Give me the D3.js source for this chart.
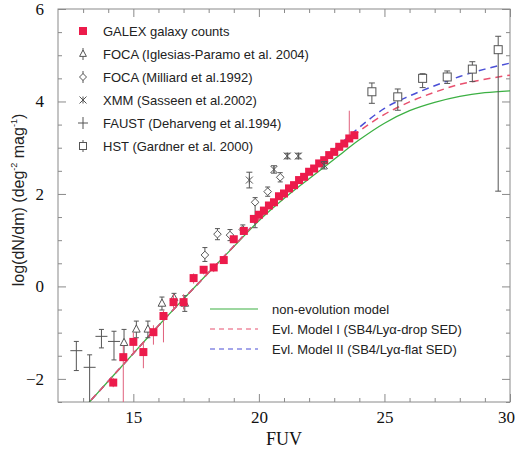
<!DOCTYPE html>
<html><head><meta charset="utf-8">
<script src="https://cdn.jsdelivr.net/npm/d3@7"></script>
<style>body{margin:0;background:#fff}svg{display:block}</style>
</head><body>
<script>
// ---- data ----
const galexMag = [14.2,14.6,15.0,15.4,15.8,16.2,16.6,17.0,17.4,17.8,18.2,18.6,19.0,19.4,19.8,20.0,20.2,20.4,20.6,20.8,21.0,21.2,21.4,21.6,21.8,22.0,22.2,22.4,22.6,22.8,23.0,23.2,23.4,23.6,23.8];
const galexLog = [-2.08,-1.53,-1.2,-1.42,-0.99,-0.64,-0.34,-0.34,0.18,0.36,0.41,0.57,1.02,1.2,1.46,1.55,1.64,1.75,1.82,1.95,2.01,2.12,2.19,2.3,2.37,2.48,2.55,2.66,2.73,2.84,2.91,3.02,3.09,3.2,3.27];
const galexErrLo = [0.1,1.0,0.25,0.35,0.27,0.57,0.16,0.16,0.12,0.1,0.1,0.08,0.06,0.05,0.04,0.03,0.03,0.03,0.03,0.03,0.03,0.03,0.03,0.03,0.03,0.03,0.03,0.03,0.03,0.03,0.03,0.03,0.03,0.03,0.03];
const galexErrHi = [0.1,0.25,0.2,0.2,0.15,0.12,0.17,0.17,0.1,0.08,0.08,0.06,0.05,0.04,0.04,0.03,0.03,0.03,0.03,0.03,0.03,0.03,0.03,0.03,0.03,0.03,0.03,0.03,0.03,0.03,0.03,0.03,0.03,0.6,0.03];

const focaIMag = [14.63,15.12,15.58,16.14,16.62,17.05];
const focaILog = [-1.22,-0.93,-0.93,-0.37,-0.25,-0.37];
const focaIErr = [0.29,0.18,0.18,0.14,0.1,0.17];

const millMag = [17.85,18.35,18.85,19.36,19.85,20.35,20.85];
const millLog = [0.68,1.13,1.11,1.23,1.82,2.05,2.36];
const millErrLo = [0.14,0.12,0.12,0.1,0.55,0.1,0.1];
const millErrHi = [0.16,0.12,0.12,0.1,0.1,0.1,0.1];

const xmmMag = [19.62,20.6,21.13,21.57,22.6];
const xmmLog = [2.3,2.53,2.82,2.82,2.62];
const xmmErr = [0.17,0.08,0.06,0.06,0.08];

const faustMag = [12.73,13.26,13.73,14.23];
const faustLog = [-1.39,-1.75,-1.08,-1.19];
const faustErrLo = [0.43,0.8,0.25,0.4];
const faustErrHi = [0.2,0.27,0.15,0.22];

const hstMag = [24.5,25.53,26.52,27.5,28.5,29.53];
const hstLog = [4.21,4.1,4.5,4.53,4.7,5.12];
const hstErrLo = [0.25,0.29,0.2,0.14,0.27,3.06];
const hstErrHi = [0.19,0.17,0.1,0.13,0.16,0.29];

const modelMag = [13,14,15,16,17,18,19,20,21,22,23,24,25,26,27,28,29,30];
const nonEvo   = [-2.65,-2.05,-1.45,-0.85,-0.27,0.3,0.86,1.42,1.9,2.33,2.75,3.17,3.53,3.8,3.98,4.11,4.19,4.23];
const evoI     = [-2.65,-2.05,-1.45,-0.85,-0.27,0.3,0.87,1.45,1.97,2.43,2.9,3.36,3.72,3.99,4.2,4.37,4.48,4.57];
const evoII    = [-2.65,-2.05,-1.45,-0.85,-0.27,0.3,0.87,1.46,1.99,2.47,2.96,3.44,3.85,4.12,4.34,4.54,4.7,4.83];

const xTicks = [15,20,25,30];
const yTicks = [-2,0,2,4,6];

const legendTop = ["GALEX galaxy counts","FOCA (Iglesias-Paramo et al. 2004)","FOCA (Milliard et al.1992)","XMM (Sasseen et al.2002)","FAUST (Deharveng et al.1994)","HST (Gardner et al. 2000)"];
const legendModels = ["non-evolution model","Evl. Model I (SB4/Ly\u03b1-drop SED)","Evl. Model II (SB4/Ly\u03b1-flat SED)"];

// ---- drawing ----
const W = 521, H = 451;
const L = 58, R = 510, T = 9, B = 402;
const x = d3.scaleLinear().domain([12,30]).range([L,R]);
const y = d3.scaleLinear().domain([-2.5,6]).range([B,T]);
const red = "#ec1b4b", gray = "#555", frame = "#8a8a8a";

const svg = d3.select("body").append("svg").attr("width",W).attr("height",H);
svg.append("defs").append("clipPath").attr("id","clip")
  .append("rect").attr("x",L).attr("y",T).attr("width",R-L).attr("height",B-T);

const tickStyle = g => { g.selectAll("path").remove(); g.selectAll("line").attr("stroke",frame); };
const xMinor = d3.range(13,30,1).filter(v=>v%5!==0);
const yMinor = d3.range(-2.5,6,0.5).filter(v=>v%2!==0);
function axisPair(scale, major, minor, orient, pos, labels) {
  const ax = orient(scale).tickValues(major).tickSize(-8).tickPadding(labels?12:0).tickFormat(labels?d3.format("d"):"");
  const g = svg.append("g").attr("transform",pos).call(ax).call(tickStyle);
  const mx = orient(scale).tickValues(minor).tickSize(-4).tickFormat("");
  svg.append("g").attr("transform",pos).call(mx).call(tickStyle);
  return g;
}
const gx = axisPair(x, xTicks, xMinor, d3.axisBottom, `translate(0,${B})`, true);
axisPair(x, xTicks, xMinor, d3.axisTop, `translate(0,${T})`, false);
const gy = axisPair(y, yTicks, yMinor, d3.axisLeft, `translate(${L},0)`, true);
axisPair(y, yTicks, yMinor, d3.axisRight, `translate(${R},0)`, false);
gx.selectAll("text").attr("font-family","'Liberation Serif',serif").attr("font-size",17).attr("fill","#111").attr("dy","0.55em");
gy.selectAll("text").attr("font-family","'Liberation Serif',serif").attr("font-size",17).attr("fill","#111").attr("dx","-2");
gx.selectAll(".tick").filter(d=>d===30).select("text").attr("dx","-4");

svg.append("rect").attr("x",L).attr("y",T).attr("width",R-L).attr("height",B-T)
  .attr("fill","none").attr("stroke",frame).attr("stroke-width",1);

svg.append("text").attr("x",284).attr("y",445).attr("text-anchor","middle")
  .attr("font-family","'Liberation Serif',serif").attr("font-size",18).attr("fill","#111").text("FUV");
const yl = svg.append("text").attr("transform","translate(24,200) rotate(-90)").attr("text-anchor","middle")
  .attr("font-family","'Liberation Sans',Arial,sans-serif").attr("font-size",16).attr("fill","#222");
yl.append("tspan").text("log(dN/dm) (deg");
yl.append("tspan").attr("font-size",9).attr("dy",-7).text("-2");
yl.append("tspan").attr("dy",7).text(" mag");
yl.append("tspan").attr("font-size",9).attr("dy",-7).text("-1");
yl.append("tspan").attr("dy",7).text(")");

const plot = svg.append("g").attr("clip-path","url(#clip)");

const line = d3.line().curve(d3.curveMonotoneX);
const mk = arr => line(modelMag.map((m,i)=>[x(m),y(arr[i])]));
plot.append("path").attr("d",mk(evoII)).attr("fill","none").attr("stroke","#4a4fd6").attr("stroke-width",1.5).attr("stroke-dasharray","7,5");
plot.append("path").attr("d",mk(nonEvo)).attr("fill","none").attr("stroke","#3cb043").attr("stroke-width",1.3);
plot.append("path").attr("d",mk(evoI)).attr("fill","none").attr("stroke","#e8506e").attr("stroke-width",1.5).attr("stroke-dasharray","7,5");

function errBar(g, mx, my, lo, hi, color, cap) {
  g.append("line").attr("x1",x(mx)).attr("x2",x(mx)).attr("y1",y(my-lo)).attr("y2",y(my+hi))
    .attr("stroke",color).attr("stroke-width",1);
  if (cap) {
    [my-lo, my+hi].forEach(v=>g.append("line").attr("x1",x(mx)-cap).attr("x2",x(mx)+cap)
      .attr("y1",y(v)).attr("y2",y(v)).attr("stroke",color).attr("stroke-width",1));
  }
}

faustMag.forEach((m,i)=>{
  errBar(plot,m,faustLog[i],faustErrLo[i],faustErrHi[i],gray,2.5);
  plot.append("line").attr("x1",x(m)-6).attr("x2",x(m)+6).attr("y1",y(faustLog[i])).attr("y2",y(faustLog[i])).attr("stroke",gray);
});
const tri = (cx,cy,s)=>`M${cx},${cy-s}L${cx+s*0.85},${cy+s*0.6}L${cx-s*0.85},${cy+s*0.6}Z`;
focaIMag.forEach((m,i)=>{
  errBar(plot,m,focaILog[i],focaIErr[i],focaIErr[i],gray,2.5);
  plot.append("path").attr("d",tri(x(m),y(focaILog[i]),4.5)).attr("fill","#fff").attr("stroke",gray);
});
const dia = (cx,cy,s)=>`M${cx},${cy-s}L${cx+s},${cy}L${cx},${cy+s}L${cx-s},${cy}Z`;
millMag.forEach((m,i)=>{
  errBar(plot,m,millLog[i],millErrLo[i],millErrHi[i],gray,2.5);
  plot.append("path").attr("d",dia(x(m),y(millLog[i]),3.8)).attr("fill","#fff").attr("stroke",gray);
});
galexMag.forEach((m,i)=>{
  errBar(plot,m,galexLog[i],galexErrLo[i],galexErrHi[i],"#e0607c",0);
});
galexMag.forEach((m,i)=>{
  plot.append("rect").attr("x",x(m)-4).attr("y",y(galexLog[i])-4).attr("width",8).attr("height",8).attr("fill",red);
});
const xmark = (g,cx,cy,s)=>{
  g.append("path").attr("d",`M${cx-s},${cy-s}L${cx+s},${cy+s}M${cx-s},${cy+s}L${cx+s},${cy-s}M${cx},${cy-s}L${cx},${cy+s}`)
   .attr("stroke",gray).attr("fill","none");
};
xmmMag.forEach((m,i)=>{
  errBar(plot,m,xmmLog[i],xmmErr[i],xmmErr[i],gray,3);
  xmark(plot,x(m),y(xmmLog[i]),3.5);
});
hstMag.forEach((m,i)=>{
  errBar(plot,m,hstLog[i],hstErrLo[i],hstErrHi[i],gray,3);
  plot.append("rect").attr("x",x(m)-4).attr("y",y(hstLog[i])-4).attr("width",8).attr("height",8).attr("fill","#fff").attr("stroke",gray);
});

const lf = "'Liberation Sans',Arial,sans-serif";
const lg = svg.append("g");
const rowY = i => 31 + i*23;
legendTop.forEach((t,i)=>{
  lg.append("text").attr("x",103).attr("y",rowY(i)+4.5).attr("font-family",lf).attr("font-size",13).attr("fill","#222").text(t);
});
const lx = 83;
lg.append("rect").attr("x",lx-4).attr("y",rowY(0)-4).attr("width",8).attr("height",8).attr("fill",red);
lg.append("line").attr("x1",lx).attr("x2",lx).attr("y1",rowY(1)-6).attr("y2",rowY(1)+6).attr("stroke",gray);
lg.append("path").attr("d",tri(lx,rowY(1),4)).attr("fill","#fff").attr("stroke",gray);
lg.append("line").attr("x1",lx).attr("x2",lx).attr("y1",rowY(2)-6).attr("y2",rowY(2)+6).attr("stroke",gray);
lg.append("path").attr("d",dia(lx,rowY(2),3.5)).attr("fill","#fff").attr("stroke",gray);
xmark(lg,lx,rowY(3),3.5);
lg.append("line").attr("x1",lx).attr("x2",lx).attr("y1",rowY(4)-6).attr("y2",rowY(4)+6).attr("stroke",gray);
lg.append("line").attr("x1",lx-5).attr("x2",lx+5).attr("y1",rowY(4)).attr("y2",rowY(4)).attr("stroke",gray);
lg.append("line").attr("x1",lx).attr("x2",lx).attr("y1",rowY(5)-6).attr("y2",rowY(5)+6).attr("stroke",gray);
lg.append("rect").attr("x",lx-3.5).attr("y",rowY(5)-3.5).attr("width",7).attr("height",7).attr("fill","#fff").attr("stroke",gray);

const mcol = ["#3cb043","#e8506e","#4a4fd6"];
const mdash = [null,"5,4","5,4"];
legendModels.forEach((t,i)=>{
  const yy = 309 + i*20;
  const l = svg.append("line").attr("x1",210).attr("x2",258).attr("y1",yy).attr("y2",yy).attr("stroke",mcol[i]).attr("stroke-width",1.2);
  if (mdash[i]) l.attr("stroke-dasharray",mdash[i]);
  svg.append("text").attr("x",272).attr("y",yy+4.5).attr("font-family",lf).attr("font-size",13).attr("fill","#222").text(t);
});
</script>
</body></html>
